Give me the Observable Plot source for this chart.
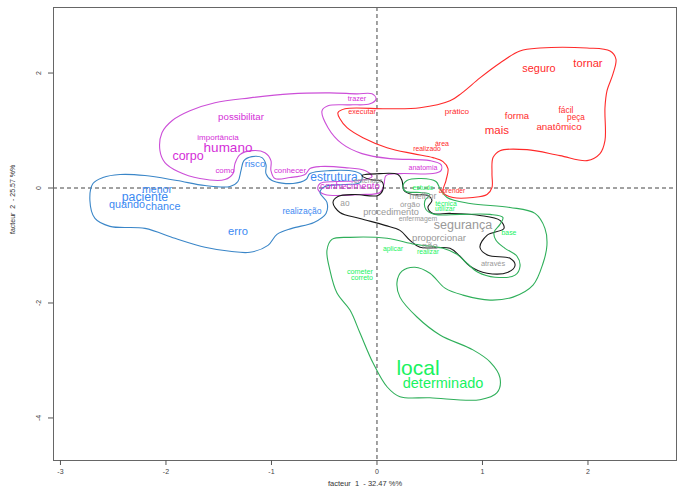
<!DOCTYPE html>
<html><head><meta charset="utf-8">
<script src="https://cdn.jsdelivr.net/npm/d3@7"></script>
<script src="https://cdn.jsdelivr.net/npm/@observablehq/plot@0.6"></script>
<style>
html,body{margin:0;padding:0;background:#fff;}
#chart{width:682px;height:491px;overflow:hidden;}
svg{font-family:"Liberation Sans",Arial,sans-serif;}
</style></head><body><div id="chart"></div>
<script>
// ---- axis data ----
const xTicks = [-3, -2, -1, 0, 1, 2];
const yTicks = [-4, -2, 0, 2];
const xTitle = "facteur  1  - 32.47 %%";
const yTitle = "facteur  2  - 25.57 %%";

// ---- words (factor 1, factor 2, chi2-like weight, cluster) ----
const words = ["possibilitar","importância","humano","corpo","como","conhecer","trazer","anatomia","conhecimento",
  "risco","menor","paciente","quando","chance","realização","erro","estrutura",
  "entender","ao","procedimento","órgão","enfermagem","melhor","segurança","proporcionar","não","através",
  "estudo","técnica","utilizar","base","aplicar","realizar","cometer","correto","local","determinado",
  "seguro","tornar","executar","prático","forma","fácil","peça","anatômico","mais","área","realizado","aprender"];
const factor1 = [-1.289,-1.507,-1.412,-1.791,-1.441,-0.825,-0.190,0.436,-0.256,
  -1.156,-2.085,-2.199,-2.370,-2.028,-0.711,-1.318,-0.408,
  -0.085,-0.303,0.133,0.313,0.389,0.436,0.815,0.588,0.502,1.100,
  0.436,0.654,0.645,1.251,0.152,0.483,-0.161,-0.142,0.389,0.626,
  1.536,2.000,-0.142,0.758,1.327,1.791,1.886,1.725,1.137,0.616,0.474,0.711];
const factor2 = [1.239,0.875,0.702,0.563,0.303,0.303,1.551,0.355,0.043,
  0.425,-0.026,-0.165,-0.286,-0.321,-0.407,-0.754,0.182,
  0.130,-0.269,-0.425,-0.286,-0.529,-0.147,-0.650,-0.875,-1.014,-1.309,
  0.009,-0.269,-0.355,-0.771,-1.066,-1.118,-1.464,-1.568,-3.128,-3.406,
  2.071,2.175,1.326,1.326,1.256,1.360,1.222,1.066,0.997,0.771,0.685,-0.043];
const weight = [9.7,8,13.5,12.5,7.8,7.8,7.2,7,9.6,
  9.8,10.6,12.3,10.8,10.8,8.6,11.2,12,
  7.2,8.4,9.2,7.8,6.9,8.8,12.5,9.6,9.4,7.4,
  7,6.8,6.9,6.9,6.8,6.7,7.2,7.1,21,14.5,
  10.9,11.2,7.2,8.1,9.5,8.4,8.2,9.8,11.5,7,6.8,6.6];
const wordCluster = ["magenta","magenta","magenta","magenta","magenta","magenta","magenta","magenta","magenta",
  "blue","blue","blue","blue","blue","blue","blue","blue",
  "gray","gray","gray","gray","gray","gray","gray","gray","gray","gray",
  "green","green","green","green","green","green","green","green","green","green",
  "red","red","red","red","red","red","red","red","red","red","red","red"];

// ---- cluster contours (factor 1, factor 2) ----
const redContour = [[-0.370,1.309],[-0.303,1.378],[0.095,1.378],[0.408,1.395],[0.692,1.516],[0.806,1.655],[0.976,1.915],[1.166,2.175],[1.355,2.383],[1.545,2.435],[1.991,2.435],[2.209,2.383],[2.265,2.244],[2.237,1.984],[2.180,1.690],[2.161,1.395],[2.161,0.823],[2.114,0.598],[1.991,0.477],[1.735,0.563],[1.422,0.667],[1.166,0.650],[1.100,0.529],[1.090,0.251],[1.090,0.009],[1.043,-0.113],[0.910,-0.165],[0.720,-0.165],[0.626,-0.078],[0.654,0.130],[0.673,0.338],[0.626,0.459],[0.531,0.529],[0.341,0.598],[0.095,0.702],[-0.133,0.875],[-0.284,1.049],[-0.351,1.204]];
const magentaContour = [[-2.057,0.650],[-2.038,0.962],[-1.943,1.170],[-1.773,1.343],[-1.536,1.482],[-1.204,1.568],[-0.825,1.638],[-0.446,1.655],[-0.190,1.638],[-0.047,1.638],[-0.009,1.551],[-0.066,1.464],[-0.256,1.447],[-0.464,1.430],[-0.521,1.343],[-0.464,1.049],[-0.332,0.771],[-0.142,0.598],[0.123,0.511],[0.502,0.477],[0.607,0.407],[0.607,0.303],[0.531,0.251],[0.218,0.251],[0.085,0.217],[0.066,0.061],[0.028,-0.078],[-0.161,-0.113],[-0.493,-0.113],[-0.559,-0.026],[-0.540,0.078],[-0.398,0.113],[-0.161,0.130],[-0.047,0.199],[-0.114,0.303],[-0.303,0.355],[-0.540,0.373],[-0.635,0.338],[-0.683,0.234],[-0.825,0.182],[-0.967,0.165],[-1.005,0.303],[-1.005,0.477],[-1.062,0.615],[-1.185,0.650],[-1.299,0.581],[-1.346,0.425],[-1.365,0.251],[-1.441,0.147],[-1.678,0.165],[-1.886,0.286],[-2.010,0.442]];
const blueContour = [[-2.692,0.078],[-2.597,0.182],[-2.436,0.234],[-2.199,0.217],[-1.896,0.130],[-1.630,0.043],[-1.393,0.026],[-1.318,0.113],[-1.289,0.303],[-1.261,0.477],[-1.185,0.546],[-1.090,0.529],[-1.052,0.407],[-1.052,0.251],[-0.995,0.130],[-0.796,0.078],[-0.673,0.147],[-0.635,0.251],[-0.446,0.303],[-0.209,0.286],[-0.142,0.217],[-0.161,0.095],[-0.303,0.061],[-0.493,0.026],[-0.540,-0.078],[-0.474,-0.251],[-0.483,-0.442],[-0.597,-0.598],[-0.806,-0.702],[-0.948,-0.806],[-1.033,-0.997],[-1.204,-1.118],[-1.393,-1.101],[-1.630,-1.031],[-1.915,-0.875],[-2.199,-0.702],[-2.531,-0.667],[-2.673,-0.529],[-2.721,-0.217]];
const blackContour = [[-0.142,0.217],[0.028,0.251],[0.199,0.234],[0.237,0.130],[0.256,-0.043],[0.332,-0.113],[0.483,-0.130],[0.521,-0.217],[0.483,-0.338],[0.531,-0.442],[0.692,-0.442],[0.976,-0.477],[1.166,-0.563],[1.204,-0.702],[1.043,-0.823],[0.976,-1.031],[1.052,-1.170],[1.261,-1.222],[1.309,-1.343],[1.243,-1.464],[1.043,-1.482],[0.882,-1.360],[0.787,-1.187],[0.692,-1.049],[0.408,-1.031],[0.313,-0.910],[0.218,-0.737],[0.076,-0.650],[-0.161,-0.529],[-0.351,-0.425],[-0.417,-0.251],[-0.370,-0.147],[-0.209,-0.113],[0.009,-0.130],[0.057,-0.026],[0.047,0.113],[-0.066,0.147]];
const greenContour = [[0.246,0.026],[0.284,0.130],[0.417,0.165],[0.559,0.113],[0.597,-0.009],[0.664,-0.165],[0.882,-0.269],[1.261,-0.338],[1.498,-0.442],[1.592,-0.702],[1.611,-0.997],[1.574,-1.309],[1.479,-1.690],[1.289,-1.898],[1.071,-1.950],[0.815,-1.863],[0.645,-1.742],[0.502,-1.482],[0.360,-1.378],[0.237,-1.447],[0.190,-1.638],[0.218,-1.898],[0.379,-2.244],[0.597,-2.556],[0.910,-2.816],[1.071,-3.024],[1.166,-3.301],[1.138,-3.561],[0.976,-3.683],[0.502,-3.648],[0.218,-3.631],[0.095,-3.457],[-0.038,-3.041],[-0.161,-2.522],[-0.256,-2.123],[-0.379,-1.828],[-0.446,-1.430],[-0.474,-1.083],[-0.427,-0.893],[-0.256,-0.858],[0.095,-0.875],[0.360,-0.979],[0.626,-1.049],[0.758,-1.153],[0.853,-1.309],[0.957,-1.464],[1.119,-1.551],[1.309,-1.516],[1.356,-1.360],[1.327,-1.187],[1.213,-1.049],[1.128,-0.910],[1.109,-0.771],[1.166,-0.633],[1.194,-0.511],[1.071,-0.459],[0.787,-0.459],[0.550,-0.459],[0.464,-0.373],[0.455,-0.217],[0.502,-0.113],[0.408,-0.078],[0.275,-0.061]];

// ---- styles ----
const textColor = {red:"#ff2b2b", magenta:"#d42ed8", blue:"#3b89f2", gray:"#999999", green:"#19f25f"};
const lineColor = {red:"#ff2a2a", magenta:"#cc4fd8", blue:"#3a86c8", gray:"#1a1a1a", green:"#2faf5a"};

const wordTable = words.map((w, i) => ({word: w, x: factor1[i], y: factor2[i], w: weight[i], cluster: wordCluster[i]}));
const contourSets = [["red", redContour], ["magenta", magentaContour], ["blue", blueContour], ["gray", blackContour], ["green", greenContour]];
const contourTable = contourSets.flatMap(([c, pts]) => pts.map(([x, y]) => ({cluster: c, x, y})));
const fmt = d => String(d);

const chart = Plot.plot({
  width: 682, height: 491,
  marginLeft: 53, marginRight: 6, marginTop: 7, marginBottom: 31,
  style: {fontFamily: "'Liberation Sans', Arial, sans-serif", background: "#fff", color: "#444"},
  x: {domain: [-3.066, 2.839]},
  y: {domain: [-4.74, 3.14]},
  marks: [
    Plot.ruleX([0], {stroke: "#444", strokeDasharray: "4,3", strokeWidth: 1}),
    Plot.ruleY([0], {stroke: "#444", strokeDasharray: "4,3", strokeWidth: 1}),
    Plot.line(contourTable, {x: "x", y: "y", z: "cluster", stroke: d => lineColor[d.cluster], strokeWidth: 1.1, curve: "catmull-rom-closed"}),
    Plot.text(wordTable, {x: "x", y: "y", text: "word", fill: d => textColor[d.cluster], fontSize: d => d.w}),
    Plot.frame({stroke: "#666"}),
    Plot.axisX({ticks: xTicks, tickFormat: fmt, tickSize: 5, tickPadding: 4, fontSize: 7, label: null, stroke: "#555", fill: "#444"}),
    Plot.axisY({ticks: yTicks, tickFormat: fmt, tickSize: 5, tickPadding: 8, tickRotate: -90, fontSize: 7, label: null, stroke: "#555", fill: "#444"}),
    Plot.text([xTitle], {frameAnchor: "bottom", dy: 25, fontSize: 7.5, fill: "#333"}),
    Plot.text([yTitle], {frameAnchor: "left", dx: -41, rotate: -90, fontSize: 7, fill: "#333"})
  ]
});
document.getElementById("chart").appendChild(chart);
</script></body></html>
